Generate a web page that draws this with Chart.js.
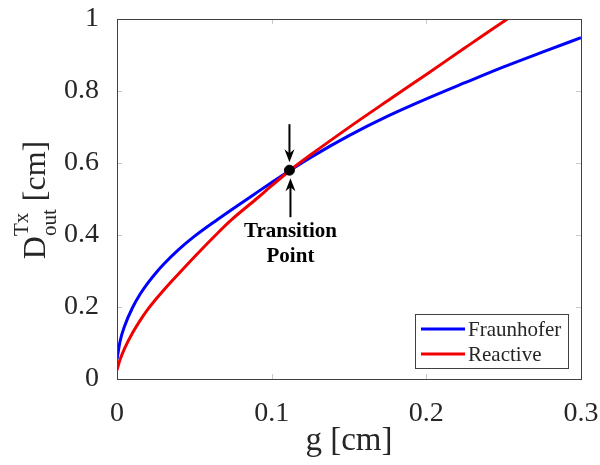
<!DOCTYPE html>
<html>
<head>
<meta charset="utf-8">
<script src="https://cdn.jsdelivr.net/npm/chart.js@4/dist/chart.umd.min.js"></script>
<style>
  body { margin: 0; background: #fff; }
  #wrap { width: 600px; height: 465px; }
</style>
</head>
<body>
<div id="wrap"><canvas id="c" width="600" height="465"></canvas></div>
<script>
// g [cm] sample positions
var gFraunhofer = [0, 0.002, 0.005, 0.01, 0.015, 0.02, 0.025, 0.03, 0.04, 0.05, 0.065, 0.075, 0.09, 0.1, 0.112, 0.125, 0.15, 0.175, 0.2, 0.225, 0.25, 0.275, 0.3];
var dFraunhofer = [0.055, 0.105, 0.148, 0.198, 0.236, 0.267, 0.294, 0.318, 0.36, 0.396, 0.443, 0.473, 0.517, 0.546, 0.58, 0.615, 0.676, 0.73, 0.778, 0.823, 0.867, 0.908, 0.948];

var gReactive = [0, 0.002, 0.005, 0.01, 0.015, 0.02, 0.025, 0.03, 0.04, 0.05, 0.065, 0.075, 0.09, 0.1, 0.112, 0.125, 0.15, 0.175, 0.2, 0.225, 0.25, 0.2525];
var dReactive = [0.025, 0.054, 0.086, 0.128, 0.163, 0.194, 0.221, 0.246, 0.293, 0.339, 0.405, 0.446, 0.5, 0.537, 0.58, 0.622, 0.699, 0.773, 0.846, 0.92, 0.993, 1.0];

var transitionG = [0.1115];
var transitionD = [0.58];

var xTickLabels = ['0', '0.1', '0.2', '0.3'];
var yTickLabels = ['0', '0.2', '0.4', '0.6', '0.8', '1'];

var serif = "'Liberation Serif', 'Times New Roman', serif";
var textColor = '#262626';

function toPoints(xs, ys) {
    return xs.map(function (x, i) { return { x: x, y: ys[i] }; });
}

// box, inner ticks, y title, annotation and legend (MATLAB look)
var decorations = {
    id: 'decorations',
    beforeDatasetsDraw: function (chart) {
        var ctx = chart.ctx, a = chart.chartArea;
        var xs = chart.scales.x, ys = chart.scales.y;
        ctx.save();
        ctx.strokeStyle = '#c8c8c8';
        ctx.lineWidth = 1;
        ctx.beginPath();
        xs.ticks.forEach(function (t) {
            var px = Math.round(xs.getPixelForValue(t.value)) + 0.5;
            ctx.moveTo(px, a.bottom); ctx.lineTo(px, a.bottom - 5);
            ctx.moveTo(px, a.top); ctx.lineTo(px, a.top + 5);
        });
        ys.ticks.forEach(function (t) {
            var py = Math.round(ys.getPixelForValue(t.value)) + 0.5;
            ctx.moveTo(a.left, py); ctx.lineTo(a.left + 5, py);
            ctx.moveTo(a.right, py); ctx.lineTo(a.right - 5, py);
        });
        ctx.stroke();
        ctx.restore();
    },
    afterDatasetsDraw: function (chart) {
        var ctx = chart.ctx, a = chart.chartArea;
        var xs = chart.scales.x, ys = chart.scales.y;
        ctx.save();

        // axes box
        ctx.strokeStyle = '#404040';
        ctx.lineWidth = 1;
        ctx.strokeRect(Math.round(a.left) + 0.5, Math.round(a.top) + 0.5,
            Math.round(a.right - a.left), Math.round(a.bottom - a.top));

        // transition point arrows + label
        var px = xs.getPixelForValue(transitionG[0]);
        var py = ys.getPixelForValue(transitionD[0]);
        ctx.strokeStyle = '#000';
        ctx.fillStyle = '#000';
        ctx.lineWidth = 2;
        function arrow(x, y0, y1) {
            var dir = y1 > y0 ? 1 : -1;
            ctx.beginPath();
            ctx.moveTo(x, y0);
            ctx.lineTo(x, y1 - dir * 8);
            ctx.stroke();
            ctx.beginPath();
            ctx.moveTo(x, y1);
            ctx.lineTo(x - 5, y1 - dir * 13);
            ctx.lineTo(x, y1 - dir * 9);
            ctx.lineTo(x + 5, y1 - dir * 13);
            ctx.closePath();
            ctx.fill();
        }
        arrow(px, py - 46, py - 8);
        arrow(px + 1, py + 47, py + 8);
        ctx.font = 'bold 21px ' + serif;
        ctx.textAlign = 'center';
        ctx.textBaseline = 'middle';
        ctx.fillText('Transition', px + 1, py + 61);
        ctx.fillText('Point', px + 1, py + 86);

        // y title: D_out^Tx [cm]
        ctx.fillStyle = textColor;
        ctx.translate(45, 200);
        ctx.rotate(-Math.PI / 2);
        ctx.textAlign = 'left';
        ctx.textBaseline = 'alphabetic';
        var big = '32px ' + serif, small = '21px ' + serif;
        ctx.font = big;
        var wD = ctx.measureText('D').width;
        var wC = ctx.measureText(' [cm]').width;
        ctx.font = small;
        var wS = Math.max(ctx.measureText('out').width, ctx.measureText('Tx').width);
        var x0 = -(wD + wS + wC) / 2;
        ctx.font = big;
        ctx.fillText('D', x0, 0);
        ctx.font = small;
        ctx.fillText('Tx', x0 + wD, -17);
        ctx.fillText('out', x0 + wD, 11);
        ctx.font = big;
        ctx.fillText(' [cm]', x0 + wD + wS, 0);
        ctx.setTransform(1, 0, 0, 1, 0, 0);

        // legend box
        var lx = 415, ly = 314, lw = 153, lh = 54;
        ctx.fillStyle = '#fff';
        ctx.fillRect(lx, ly, lw, lh);
        ctx.strokeStyle = '#404040';
        ctx.lineWidth = 1;
        ctx.strokeRect(lx + 0.5, ly + 0.5, lw, lh);
        ctx.font = '21px ' + serif;
        ctx.textAlign = 'left';
        ctx.textBaseline = 'middle';
        chart.data.datasets.forEach(function (ds, i) {
            if (!ds.inLegend) return;
            var ry = ly + 15 + i * 25;
            ctx.strokeStyle = ds.borderColor;
            ctx.lineWidth = 3;
            ctx.beginPath();
            ctx.moveTo(lx + 6, ry);
            ctx.lineTo(lx + 50, ry);
            ctx.stroke();
            ctx.fillStyle = textColor;
            ctx.fillText(ds.label, lx + 53, ry + 1);
        });
        ctx.restore();
    }
};

new Chart(document.getElementById('c'), {
    type: 'scatter',
    data: {
        datasets: [{
            label: 'Fraunhofer',
            data: toPoints(gFraunhofer, dFraunhofer),
            borderColor: 'rgb(0,0,255)',
            backgroundColor: 'rgb(0,0,255)',
            showLine: true,
            borderWidth: 3,
            pointRadius: 0,
            cubicInterpolationMode: 'monotone',
            inLegend: true,
            order: 2
        }, {
            label: 'Reactive',
            data: toPoints(gReactive, dReactive),
            borderColor: 'rgb(240,0,0)',
            backgroundColor: 'rgb(240,0,0)',
            showLine: true,
            borderWidth: 3,
            pointRadius: 0,
            cubicInterpolationMode: 'monotone',
            inLegend: true,
            order: 1
        }, {
            label: 'Transition Point',
            data: toPoints(transitionG, transitionD),
            backgroundColor: '#000',
            borderColor: '#000',
            pointRadius: 5,
            showLine: false,
            order: 0
        }]
    },
    options: {
        responsive: false,
        animation: false,
        layout: { padding: { top: 19, right: 19, left: 0, bottom: 0 } },
        plugins: {
            legend: { display: false },
            tooltip: { enabled: false }
        },
        scales: {
            x: {
                type: 'linear',
                min: 0, max: 0.3,
                grid: { display: false },
                border: { display: false },
                ticks: {
                    stepSize: 0.1,
                    padding: 10,
                    color: textColor,
                    font: { family: serif, size: 28 },
                    callback: function (v, i) { return xTickLabels[i]; }
                },
                title: {
                    display: true,
                    text: 'g [cm]',
                    color: textColor,
                    font: { family: serif, size: 33 },
                    padding: { top: 0, bottom: 4 }
                },
                afterFit: function (s) {
                    s.height = 86;
                    s.paddingLeft = 0;
                    s.paddingRight = 0;
                }
            },
            y: {
                type: 'linear',
                min: 0, max: 1,
                grid: { display: false },
                border: { display: false },
                ticks: {
                    stepSize: 0.2,
                    padding: 10,
                    color: textColor,
                    font: { family: serif, size: 28 },
                    callback: function (v, i) { return yTickLabels[i]; }
                },
                afterFit: function (s) {
                    s.width = 117;
                    s.paddingTop = 0;
                    s.paddingBottom = 0;
                }
            }
        }
    },
    plugins: [decorations]
});
</script>
</body>
</html>
